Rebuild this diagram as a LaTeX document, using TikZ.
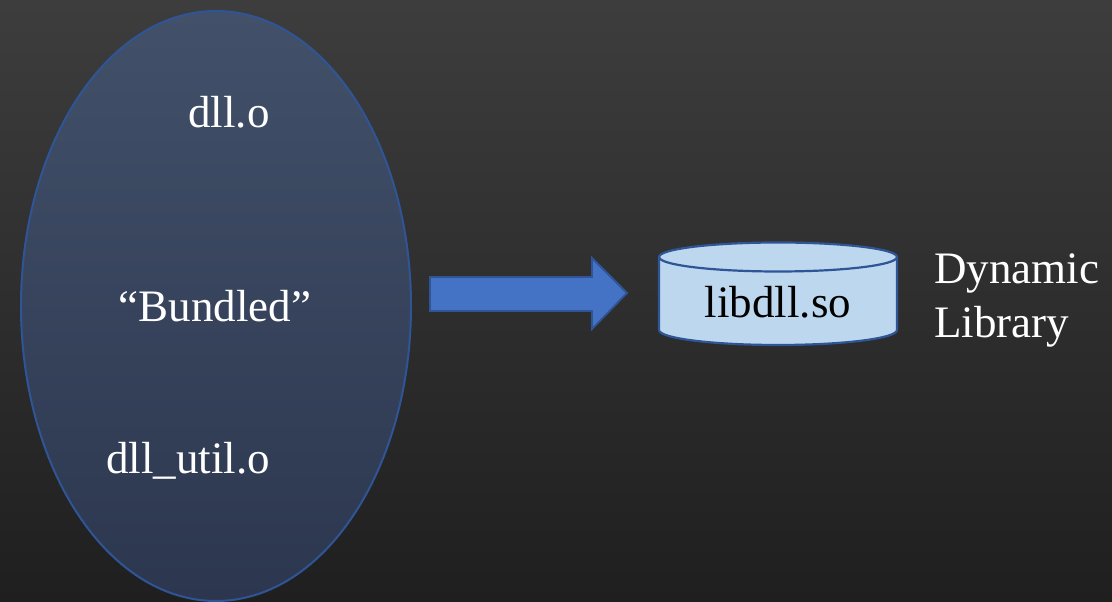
\documentclass[tikz,border=0pt]{standalone}
\usepackage{fontspec}
\setmainfont{Liberation Serif}
\definecolor{bgtop}{HTML}{3D3D3D}
\definecolor{bgbot}{HTML}{1F1F1F}
\definecolor{blobtop}{HTML}{425069}
\definecolor{blobbot}{HTML}{2C374F}
\definecolor{edgeblue}{HTML}{2F5597}
\definecolor{arrowblue}{HTML}{4472C4}
\definecolor{drumfill}{HTML}{BDD7EE}
\begin{document}
\begin{tikzpicture}[x=1pt,y=1pt,
  lbl/.style={font=\fontsize{45}{50}\selectfont, text=white, inner sep=0pt},
  drumlbl/.style={font=\fontsize{45}{50}\selectfont, text=black, inner sep=0pt}]
  % backdrop
  \shade[top color=bgtop, bottom color=bgbot] (0,0) rectangle (1112,602);
  \useasboundingbox (0,0) rectangle (1112,602);

  % the bundle of object files
  \shade[top color=blobtop, bottom color=blobbot] (216,296) ellipse [x radius=195, y radius=295];
  \draw[edgeblue, line width=2pt] (216,296) ellipse [x radius=195, y radius=295];
  \node[lbl, anchor=base] (dllo) at (229,474) {dll.o};
  \node[lbl, anchor=base] (bundled) at (215,280) {“Bundled”};
  \node[lbl, anchor=base] (dllutil) at (188,128) {dll\_util.o};

  % block arrow
  \draw[fill=arrowblue, draw=edgeblue, line width=1.8pt, line join=miter]
    (430,325) -- (592,325) -- (592,344) -- (627,309) -- (592,273) -- (592,291) -- (430,291) -- cycle;

  % cylinder for the shared object
  \fill[drumfill] (659,345) -- (659,272) arc[start angle=180, end angle=360, x radius=119, y radius=15]
    -- (897,345) arc[start angle=0, end angle=180, x radius=119, y radius=14.5] -- cycle;
  \draw[edgeblue, line width=2.2pt] (659,345) -- (659,272) arc[start angle=180, end angle=360, x radius=119, y radius=15] -- (897,345);
  \draw[edgeblue, line width=2.2pt] (778,345) ellipse [x radius=119, y radius=14.5];
  \node[drumlbl, anchor=base] (lib) at (778,284) {libdll.so};

  % caption
  \node[lbl, anchor=base west] (dyn) at (934,318) {Dynamic};
  \node[lbl, anchor=base west] (libr) at (934,264) {Library};
\end{tikzpicture}
\end{document}
